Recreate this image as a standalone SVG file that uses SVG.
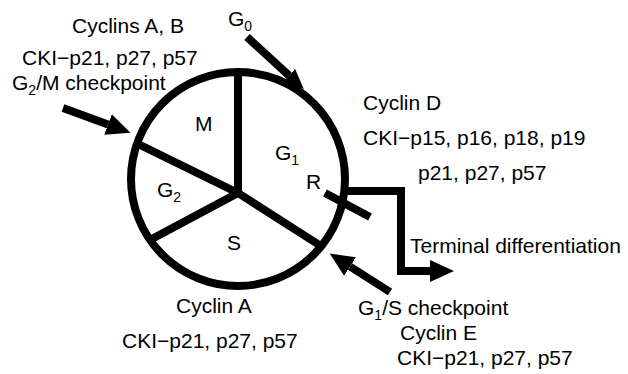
<svg xmlns="http://www.w3.org/2000/svg" width="628" height="374" viewBox="0 0 628 374">
  <style>
    .lbl { font-family: "Liberation Sans", Arial, sans-serif; font-size: 21px; fill: #000; }
    .sub { font-size: 14px; }
    .thick { fill: none; stroke: #000; stroke-width: 8; }
  </style>
  <defs>
    <marker id="head" markerUnits="userSpaceOnUse" viewBox="0 0 24 22" markerWidth="24" markerHeight="22" refX="0" refY="11" orient="auto">
      <path d="M0,0 L24,11 L0,22 Z" fill="#000"/>
    </marker>
    <marker id="head-small" markerUnits="userSpaceOnUse" viewBox="0 0 20 18" markerWidth="20" markerHeight="18" refX="0" refY="9" orient="auto">
      <path d="M0,0 L20,9 L0,18 Z" fill="#000"/>
    </marker>
  </defs>
  <rect width="628" height="374" fill="#fff"/>

  <!-- cell cycle wheel -->
  <g id="cycle">
    <circle class="thick" cx="238" cy="179" r="107"/>
    <line class="thick" x1="238" y1="72" x2="238" y2="193"/>
    <line class="thick" x1="134" y1="142" x2="238" y2="193"/>
    <line class="thick" x1="148" y1="241" x2="238" y2="193"/>
    <line class="thick" x1="324" y1="248" x2="238" y2="193"/>
    <!-- restriction point tick -->
    <line class="thick" x1="325" y1="193" x2="370" y2="217" stroke-width="7"/>
  </g>

  <!-- phase labels -->
  <g id="phase-M"><text class="lbl" x="195" y="131">M</text></g>
  <g id="phase-G1"><text class="lbl" x="275" y="160">G<tspan class="sub" dy="5">1</tspan></text></g>
  <g id="phase-R"><text class="lbl" x="306" y="189">R</text></g>
  <g id="phase-G2"><text class="lbl" x="157" y="197">G<tspan class="sub" dy="5">2</tspan></text></g>
  <g id="phase-S"><text class="lbl" x="227" y="250">S</text></g>

  <!-- connectors -->
  <g id="connectors">
    <line class="thick" x1="247" y1="37" x2="289" y2="75.5" marker-end="url(#head-small)"/>
    <line class="thick" x1="63" y1="108" x2="108" y2="124.5" marker-end="url(#head)"/>
    <line class="thick" x1="390" y1="292" x2="350" y2="266.5" marker-end="url(#head)"/>
    <polyline class="thick" points="346,191 401,191 401,271 430,271" marker-end="url(#head)"/>
  </g>

  <!-- annotations -->
  <g id="g0"><text class="lbl" x="228" y="26">G<tspan class="sub" dy="5">0</tspan></text></g>
  <g id="g2m">
    <text class="lbl" x="72" y="33">Cyclins A, B</text>
    <text class="lbl" x="22" y="65">CKI−p21, p27, p57</text>
    <text class="lbl" x="12" y="90">G<tspan class="sub" dy="5">2</tspan><tspan dy="-5">/M checkpoint</tspan></text>
  </g>
  <g id="g1">
    <text class="lbl" x="363" y="110">Cyclin D</text>
    <text class="lbl" x="363" y="145">CKI−p15, p16, p18, p19</text>
    <text class="lbl" x="418" y="180">p21, p27, p57</text>
  </g>
  <g id="terminal"><text class="lbl" x="410" y="253">Terminal differentiation</text></g>
  <g id="s-phase">
    <text class="lbl" x="176" y="313">Cyclin A</text>
    <text class="lbl" x="122" y="348">CKI−p21, p27, p57</text>
  </g>
  <g id="g1s">
    <text class="lbl" x="358" y="315">G<tspan class="sub" dy="5">1</tspan><tspan dy="-5">/S checkpoint</tspan></text>
    <text class="lbl" x="400" y="340">Cyclin E</text>
    <text class="lbl" x="397" y="365">CKI−p21, p27, p57</text>
  </g>
</svg>
